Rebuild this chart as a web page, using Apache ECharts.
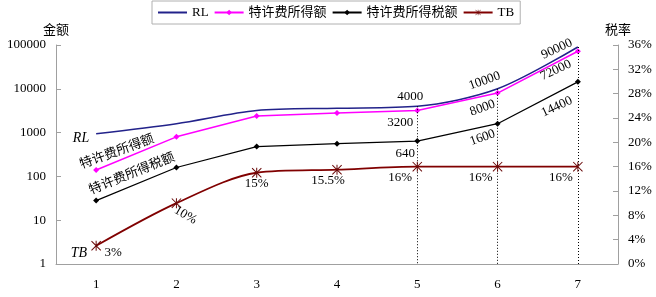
<!DOCTYPE html>
<html>
<head>
<meta charset="utf-8">
<script src="https://cdn.jsdelivr.net/npm/echarts@6/dist/echarts.min.js"></script>
<style>
  html, body { margin: 0; padding: 0; background: #fff; }
  #chart { width: 656px; height: 297px; }
</style>
</head>
<body>
<div id="chart"></div>
<script>
const categories = ['1', '2', '3', '4', '5', '6', '7']
const rl = [940, 1600, 3200, 3600, 4000, 10000, 90000]
const taxable = [140, 800, 2400, 2800, 3200, 8000, 72000]
const tax = [28, 160, 480, 560, 640, 1600, 14400]
const tb = [3, 10, 15, 15.5, 16, 16, 16]
const dropCats = ['5', '6', '7']

const FONT = '"Liberation Serif", "Times New Roman", "Noto Sans CJK SC", serif'
const AXIS_GRAY = '#a0a0a0'
const starPath = 'path://M9 0L11 0L11 20L9 20Z M0 1.4L1.4 0L20 18.6L18.6 20Z M18.6 0L20 1.4L1.4 20L0 18.6Z'

// which points get a value label, and where its centre sits relative to the point (screen px)
const rlLabels = { 4: { offset: [-7, -10] }, 5: { offset: [-13, -8], rotate: 20 }, 6: { offset: [-21, 2], rotate: 25 } }
const taxableLabels = { 4: { offset: [-17, 12] }, 5: { offset: [-15, 15], rotate: 20 }, 6: { offset: [-22, 19], rotate: 25 } }
const taxLabels = { 4: { offset: [-12, 12] }, 5: { offset: [-15, 14], rotate: 20 }, 6: { offset: [-21, 25], rotate: 25 } }
const tbLabels = {
  0: { offset: [17, 7] }, 1: { offset: [9, 12], rotate: -30 }, 2: { offset: [0, 11] },
  3: { offset: [-9, 11] }, 4: { offset: [-17, 11] }, 5: { offset: [-17, 11] }, 6: { offset: [-17, 11] }
}

// echarts applies offset before rotating, so turn the screen offset back
function localOffset(off, deg) {
  const t = deg * Math.PI / 180
  const c = Math.cos(t), s = Math.sin(t)
  return [off[0] * c - off[1] * s, off[0] * s + off[1] * c]
}

function withLabels(values, labels, suffix) {
  return values.map((v, i) => {
    const l = labels[i]
    if (!l) return v
    const rot = l.rotate || 0
    return {
      value: v,
      label: {
        show: true,
        position: 'inside',
        align: 'center',
        verticalAlign: 'middle',
        offset: localOffset(l.offset, rot),
        rotate: rot,
        formatter: v + (suffix || ''),
        color: '#000',
        fontFamily: FONT,
        fontSize: 13
      }
    }
  })
}

const chart = echarts.init(document.getElementById('chart'))

const option = {
  animation: false,
  grid: { left: 56, right: 38, top: 45, bottom: 33 },
  legend: {
    top: 1,
    left: 152,
    padding: [5, 6, 5, 5],
    itemGap: 5,
    itemWidth: 29,
    itemHeight: 7,
    borderColor: '#b0b0b0',
    borderWidth: 1,
    textStyle: { fontFamily: FONT, fontSize: 13, color: '#000' },
    data: ['RL', '特许费所得额', '特许费所得税额', 'TB']
  },
  xAxis: {
    type: 'category',
    data: categories,
    boundaryGap: true,
    axisLine: { lineStyle: { color: AXIS_GRAY } },
    axisTick: { inside: true, length: 5, lineStyle: { color: AXIS_GRAY } },
    axisLabel: { color: '#000', fontFamily: FONT, fontSize: 13, margin: 14 }
  },
  yAxis: [
    {
      type: 'log',
      logBase: 10,
      min: 1,
      max: 100000,
      name: '金额',
      nameGap: 8,
      nameTextStyle: { color: '#000', fontFamily: FONT, fontSize: 13 },
      axisLine: { show: true, lineStyle: { color: AXIS_GRAY } },
      axisTick: { show: true, inside: true, length: 5, lineStyle: { color: AXIS_GRAY } },
      splitLine: { show: false },
      axisLabel: { color: '#000', fontFamily: FONT, fontSize: 13, margin: 10, formatter: v => String(Math.round(v)) }
    },
    {
      type: 'value',
      min: 0,
      max: 36,
      interval: 4,
      position: 'right',
      name: '税率',
      nameGap: 8,
      nameTextStyle: { color: '#000', fontFamily: FONT, fontSize: 13 },
      axisLine: { show: true, lineStyle: { color: AXIS_GRAY } },
      axisTick: { show: true, inside: true, length: 5, lineStyle: { color: AXIS_GRAY } },
      splitLine: { show: false },
      axisLabel: { color: '#000', fontFamily: FONT, fontSize: 13, margin: 10, formatter: '{value}%' }
    }
  ],
  series: [
    {
      name: 'RL',
      type: 'line',
      smooth: 0.3,
      symbol: 'circle',
      symbolSize: 1,
      lineStyle: { color: '#22228a', width: 1.5 },
      itemStyle: { color: 'rgba(0,0,0,0)' },
      data: withLabels(rl, rlLabels),
      markLine: {
        silent: true,
        symbol: 'none',
        label: { show: false },
        lineStyle: { color: '#000', type: [1, 2], width: 1 },
        data: dropCats.map(c => [
          { coord: [c, rl[categories.indexOf(c)]] },
          { coord: [c, 1] }
        ])
      },
      z: 3
    },
    {
      name: '特许费所得额',
      type: 'line',
      symbol: 'diamond',
      symbolSize: 6,
      lineStyle: { color: '#ff00ff', width: 1.5 },
      itemStyle: { color: '#ff00ff' },
      data: withLabels(taxable, taxableLabels),
      z: 4
    },
    {
      name: '特许费所得税额',
      type: 'line',
      symbol: 'diamond',
      symbolSize: 6,
      lineStyle: { color: '#000', width: 1.2 },
      itemStyle: { color: '#000' },
      data: withLabels(tax, taxLabels),
      z: 4
    },
    {
      name: 'TB',
      type: 'line',
      yAxisIndex: 1,
      smooth: 0.3,
      symbol: starPath,
      symbolSize: 10,
      lineStyle: { color: '#800000', width: 1.8 },
      itemStyle: { color: '#6a0a0a' },
      data: withLabels(tb, tbLabels, '%'),
      z: 5
    }
  ],
  graphic: [
    { type: 'text', x: 81, y: 138, style: { text: 'RL', fontFamily: FONT, fontStyle: 'italic', fontSize: 14, fill: '#000', align: 'center', verticalAlign: 'middle' } },
    { type: 'text', x: 79, y: 253, style: { text: 'TB', fontFamily: FONT, fontStyle: 'italic', fontSize: 14, fill: '#000', align: 'center', verticalAlign: 'middle' } },
    { type: 'text', x: 117, y: 152, rotation: 20 * Math.PI / 180, style: { text: '特许费所得额', fontFamily: FONT, fontSize: 13, fill: '#000', align: 'center', verticalAlign: 'middle' } },
    { type: 'text', x: 132, y: 174, rotation: 22 * Math.PI / 180, style: { text: '特许费所得税额', fontFamily: FONT, fontSize: 13, fill: '#000', align: 'center', verticalAlign: 'middle' } }
  ]
}

chart.setOption(option)
</script>
</body>
</html>
